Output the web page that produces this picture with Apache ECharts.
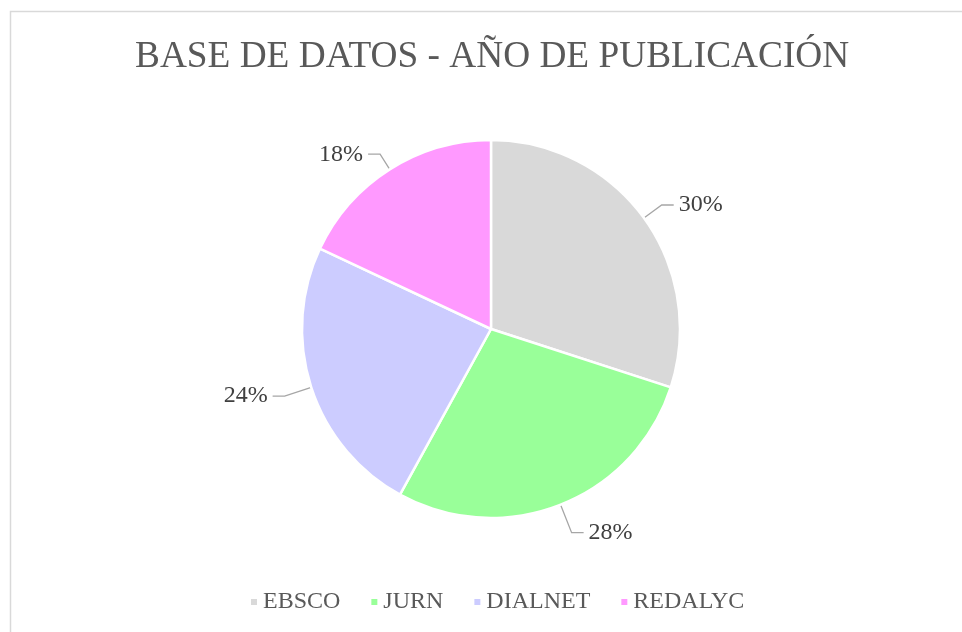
<!DOCTYPE html>
<html>
<head>
<meta charset="utf-8">
<script src="https://cdn.jsdelivr.net/npm/echarts@6/dist/echarts.min.js"></script>
<style>
  html, body { margin: 0; padding: 0; background: #fff; }
  #chart { width: 962px; height: 632px; }
</style>
</head>
<body>
<div id="chart"></div>
<script>
const titleText = 'BASE DE DATOS - AÑO DE PUBLICACIÓN';
const categories = ['EBSCO', 'JURN', 'DIALNET', 'REDALYC'];
const values = [30, 28, 24, 18];
const colors = ['#d9d9d9', '#99ff99', '#ccccff', '#ff99ff'];
// leader line lengths per slice, closer to the reference layout
const lineLengths = [22, 30, 28, 18];

const font = '"Liberation Serif", "Times New Roman", serif';
const chart = echarts.init(document.getElementById('chart'));

chart.setOption({
  animation: false,
  color: colors,
  graphic: [
    {
      type: 'rect',
      shape: { x: 10.5, y: 11.5, width: 1000, height: 1000 },
      style: { fill: 'none', stroke: '#d9d9d9', lineWidth: 1.5 },
      silent: true
    }
  ],
  title: {
    text: titleText,
    left: 130,
    top: 34,
    textStyle: { fontFamily: font, fontSize: 37.3, fontWeight: 'normal', color: '#595959' }
  },
  legend: {
    data: categories,
    bottom: 13,
    left: 244,
    icon: 'rect',
    itemWidth: 8,
    itemHeight: 8,
    itemGap: 29,
    textStyle: { fontFamily: font, fontSize: 24, color: '#595959' }
  },
  series: [
    {
      type: 'pie',
      center: [491, 329],
      radius: 189,
      startAngle: 90,
      clockwise: true,
      data: categories.map((name, i) => ({
        name,
        value: values[i],
        labelLine: { length: lineLengths[i] }
      })),
      itemStyle: { borderColor: '#fff', borderWidth: 2.5 },
      label: {
        show: true,
        formatter: '{d}%',
        fontFamily: font,
        fontSize: 24,
        color: '#404040'
      },
      labelLine: {
        show: true,
        length: 20,
        length2: 12,
        lineStyle: { color: '#a6a6a6', width: 1.3 }
      },
      emphasis: { disabled: true }
    }
  ]
});
</script>
</body>
</html>
